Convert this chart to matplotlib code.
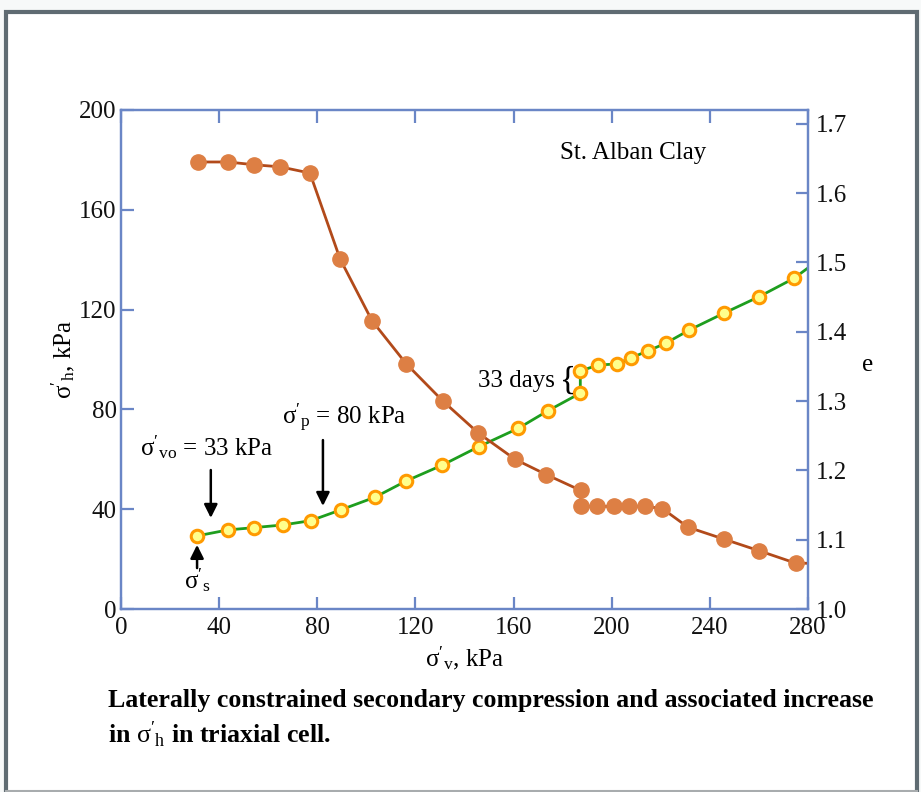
import matplotlib
matplotlib.use('Agg')
import matplotlib.pyplot as plt
from matplotlib.patches import Rectangle
from matplotlib.lines import Line2D

plt.rcParams['font.family'] = ['Liberation Serif', 'DejaVu Serif']
plt.rcParams['mathtext.fontset'] = 'custom'
plt.rcParams['mathtext.rm'] = 'Liberation Serif'
plt.rcParams['mathtext.it'] = 'Liberation Serif:italic'
plt.rcParams['mathtext.bf'] = 'Liberation Serif:bold'

# ---- data ----
sv_e = [31.3, 43.6, 54.2, 64.9, 77.0, 89.3, 102.3, 116.2, 131.2, 145.6, 160.6, 173.3,
        187.4, 187.4, 194.1, 201.0, 207.0, 213.6, 220.6, 231.1, 245.6, 260.1, 275.1]
e_vals = [1.645, 1.645, 1.641, 1.638, 1.629, 1.505, 1.416, 1.354, 1.300, 1.254, 1.216, 1.194,
          1.171, 1.148, 1.148, 1.148, 1.148, 1.148, 1.145, 1.118, 1.101, 1.084, 1.066]
sv_h = [31.0, 43.6, 54.1, 66.1, 77.3, 89.5, 103.5, 116.2, 130.8, 145.9, 161.9, 173.9,
        187.2, 187.2, 194.5, 202.0, 208.0, 214.9, 222.0, 231.6, 245.6, 259.9, 274.2]
sh_vals = [29.3, 31.7, 32.6, 33.7, 35.4, 39.7, 44.8, 51.3, 57.6, 65.1, 72.4, 79.4,
           86.5, 95.4, 97.8, 98.2, 100.7, 103.5, 106.5, 111.8, 118.5, 125.1, 132.5]
sv_edge = 280.0
e_edge = 1.066
sh_edge = 136.7

x_ticks = [0, 40, 80, 120, 160, 200, 240, 280]
y_ticks = [0, 40, 80, 120, 160, 200]
e_ticks = [1.0, 1.1, 1.2, 1.3, 1.4, 1.5, 1.6, 1.7]
e_ticklabels = ['1.0', '1.1', '1.2', '1.3', '1.4', '1.5', '1.6', '1.7']

W, H = 921, 792
fig = plt.figure(figsize=(W / 100, H / 100), dpi=100)
fig.patch.set_facecolor('#f7f9f9')
fig.patches.append(Rectangle((6 / W, -0.05), 911 / W, (792 - 12) / H + 0.05,
                             transform=fig.transFigure, facecolor='white',
                             edgecolor='#5f6b72', linewidth=3.0, zorder=-10))
fig.lines.append(Line2D([6 / W, 917 / W], [1.5 / H, 1.5 / H], transform=fig.transFigure,
                        color='#a8acae', linewidth=1.5, zorder=-9))

ax = fig.add_axes([121 / W, (H - 609) / H, (808 - 121) / W, (609 - 110) / H])
ax2 = ax.twinx()
ax.set_zorder(2)
ax2.set_zorder(3)

spine_c = '#6a86c6'
for a in (ax, ax2):
    for s in a.spines.values():
        s.set_color(spine_c)
        s.set_linewidth(1.6)
    a.patch.set_alpha(0)

# green: sigma'_h
ax.plot(sv_h + [sv_edge], sh_vals + [sh_edge], color='#1e9e1e', lw=2.0, zorder=2,
        marker='o', markevery=list(range(len(sv_h))), markersize=9,
        markerfacecolor='#ffff8c', markeredgecolor='#ff9a00', markeredgewidth=2.2)
# brown: e
ax2.plot(sv_e + [sv_edge], e_vals + [e_edge], color='#b24a1a', lw=2.0, zorder=2,
         marker='o', markevery=list(range(len(sv_e))), markersize=11,
         markerfacecolor='#dd7f44', markeredgecolor='#dd7f44')

ax.set_xlim(0, 280)
ax.set_ylim(0, 200)
ax2.set_ylim(1.0, 1.72)
ax.set_xticks(x_ticks)
ax.set_yticks(y_ticks)
ax2.set_yticks(e_ticks)
ax2.set_yticklabels(e_ticklabels)

fs = 18
ax.tick_params(axis='both', direction='in', length=9, width=1.6, color=spine_c,
               labelsize=fs, top=True, labelcolor='#111111')
ax.tick_params(axis='x', pad=6)
ax.tick_params(axis='y', pad=3)
ax2.tick_params(axis='y', direction='in', length=9, width=1.6, color=spine_c,
                labelsize=fs, pad=6, labelcolor='#111111')

ax.set_ylabel(r"$\mathrm{σ'_h}$, kPa", fontsize=fs, labelpad=2)
ax.set_xlabel(r"$\mathrm{σ'_v}$, kPa", fontsize=fs, labelpad=4)
fig.text(868 / W, 1 - 365 / H, 'e', fontsize=fs, ha='center', va='center')

ax.text(178.9, 182.8, 'St. Alban Clay', fontsize=fs, ha='left', va='center')

# annotations
ax.text(7.7, 64.9, r"$\mathrm{σ'_{vo}}$ = 33 kPa", fontsize=fs, ha='left', va='center')
ax.annotate('', xy=(36.6, 36.5), xytext=(36.6, 55.7),
            arrowprops=dict(arrowstyle='-|>', color='black', lw=1.8, mutation_scale=20,
                            shrinkA=0, shrinkB=0))
ax.text(65.6, 76.6, r"$\mathrm{σ'_p}$ = 80 kPa", fontsize=fs, ha='left', va='center')
ax.annotate('', xy=(82.3, 41.3), xytext=(82.3, 67.7),
            arrowprops=dict(arrowstyle='-|>', color='black', lw=1.8, mutation_scale=20,
                            shrinkA=0, shrinkB=0))
ax.annotate('', xy=(31.0, 25.7), xytext=(31.0, 16.4),
            arrowprops=dict(arrowstyle='-|>', color='black', lw=1.8, mutation_scale=20,
                            shrinkA=0, shrinkB=0))
ax.text(31.0, 11.6, r"$\mathrm{σ'_s}$", fontsize=fs, ha='center', va='center')
ax.text(177.0, 91.4, '33 days', fontsize=fs, ha='right', va='center')
ax.text(185.4, 91.4, '{', fontsize=24, ha='right', va='center')

# caption
fig.text(108 / W, 1 - 701 / H,
         'Laterally constrained secondary compression and associated increase',
         fontsize=18.6, fontweight='bold', ha='left', va='center')
fig.text(108 / W, 1 - 735 / H, r"in $\mathrm{σ'_h}$ in triaxial cell.",
         fontsize=18.6, fontweight='bold', ha='left', va='center')

fig.savefig('out.png', dpi=100, facecolor=fig.get_facecolor())
